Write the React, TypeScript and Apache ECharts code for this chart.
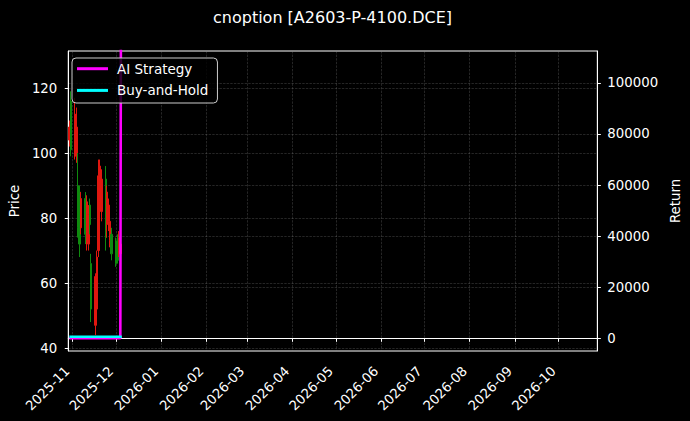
import React, { useEffect, useRef } from "react";
import * as echarts from "echarts";

// ---- data ----
const candleDates = [
  "2025-10-30", "2025-10-31", "2025-11-03", "2025-11-04", "2025-11-05", "2025-11-06", "2025-11-07",
  "2025-11-10", "2025-11-11", "2025-11-12", "2025-11-13", "2025-11-14",
  "2025-11-17", "2025-11-18", "2025-11-19", "2025-11-20", "2025-11-21",
  "2025-11-24", "2025-11-25", "2025-11-26", "2025-11-27", "2025-11-28",
  "2025-12-01", "2025-12-02", "2025-12-03", "2025-12-04",
];
const opens = [108, 101, 112, 108, 77, 72, 86, 75, 85, 81, 78, 52, 62, 68, 93, 96, 92, 74, 88, 84, 79, 69, 66, 67, 74, 72];
const closes = [104, 116, 100, 99, 90, 88, 77, 86, 76, 72, 84, 66, 47, 52, 70, 85, 82, 92, 78, 79, 73, 75, 72, 73, 70, 69];
const lows = [102, 99, 98, 97, 74, 68, 75, 72, 70, 70, 75, 48, 44, 50, 68, 80, 79, 70, 74, 76, 71, 67, 65, 66, 68, 67];
const highs = [110, 119, 117, 114, 100, 90, 88, 88, 87, 84, 86, 69, 63, 70, 98, 98, 95, 96, 90, 86, 82, 77, 74, 75, 76, 74];

const returnDates = [...candleDates, "2025-12-05"];
const aiStrategy = [0, 0, 0, 0, 0, 0, 0, 0, 0, 0, 0, 0, 0, 0, 0, 0, 0, 0, 0, 0, 0, 0, 0, 0, 0, 0, 300000];
const buyAndHold = [600, 610, 590, 600, 620, 600, 590, 610, 600, 600, 610, 590, 600, 600, 610, 600, 590, 600, 610, 600, 600, 590, 600, 610, 600, 600, 600];

const monthLabels = [
  "2025-11", "2025-12", "2026-01", "2026-02", "2026-03", "2026-04",
  "2026-05", "2026-06", "2026-07", "2026-08", "2026-09", "2026-10",
];
const priceTicks = [40, 60, 80, 100, 120];
const returnTicks = [0, 20000, 40000, 60000, 80000, 100000];

const titleText = "cnoption [A2603-P-4100.DCE]";

const toTs = (s: string) => {
  const [y, m, d] = s.split("-").map(Number);
  return Date.UTC(y, m - 1, d || 1);
};

const FONT = "DejaVu Sans";

export default function App() {
  const ref = useRef<HTMLDivElement>(null);
  useEffect(() => {
    if (!ref.current) return;
    const chart = echarts.init(ref.current, null, { renderer: "svg" });
    const candleData = candleDates.map((d, i) => [toTs(d), opens[i], closes[i], lows[i], highs[i]]);
    const aiData = returnDates.map((d, i) => [toTs(d), aiStrategy[i]]);
    const bhData = returnDates.map((d, i) => [toTs(d), buyAndHold[i]]);
    const monthTs = monthLabels.map(toTs);
    const grid = { type: "dashed", color: "rgba(140,140,140,0.45)", width: 0.6 };
    const fmtMonth = (v: number) => {
      const d = new Date(v);
      return `${d.getUTCFullYear()}-${String(d.getUTCMonth() + 1).padStart(2, "0")}`;
    };
    chart.setOption({
      animation: false,
      backgroundColor: "#000000",
      textStyle: { fontFamily: FONT },
      graphic: [
        {
          type: "text",
          x: 332.5,
          y: 17.5,
          style: {
            text: titleText,
            fill: "#ffffff",
            font: `16px "${FONT}"`,
            textAlign: "center",
            textVerticalAlign: "middle",
          },
        },
      ],
      grid: {
        left: 67,
        right: 92,
        top: 51,
        bottom: 70,
        show: true,
        borderColor: "#ffffff",
        borderWidth: 1,
        backgroundColor: "#000000",
      },
      legend: {
        left: 72,
        top: 58,
        orient: "vertical",
        itemWidth: 31,
        itemHeight: 3,
        itemGap: 5.7,
        padding: [2.7, 9, 4.6, 5],
        backgroundColor: "rgba(0,0,0,0.8)",
        borderColor: "#cccccc",
        borderWidth: 1,
        borderRadius: 4,
        icon: "rect",
        textStyle: { color: "#ffffff", fontSize: 13.5, fontFamily: FONT, lineHeight: 16, padding: [0, 0, 0, 4] },
        data: ["AI Strategy", "Buy-and-Hold"],
      },
      xAxis: {
        type: "value",
        min: Date.UTC(2025, 9, 29, 6),
        max: Date.UTC(2026, 9, 27, 16),
        axisLine: { show: true, lineStyle: { color: "#ffffff", width: 1 } },
        axisTick: { show: true, length: 3.5, lineStyle: { color: "#ffffff" }, customValues: monthTs },
        axisLabel: {
          color: "#ffffff",
          fontSize: 13.3,
          fontFamily: FONT,
          rotate: 45,
          margin: 13,
          padding: [0, 7, 0, 0],
          customValues: monthTs,
          formatter: (v: number) => fmtMonth(v),
        },
        splitLine: { show: true, lineStyle: grid },
      },
      yAxis: [
        {
          type: "value",
          position: "left",
          min: 39.1,
          max: 131.4,
          name: "Price",
          nameLocation: "middle",
          nameGap: 45,
          nameRotate: 90,
          nameTextStyle: { color: "#ffffff", fontSize: 13.3, fontFamily: FONT },
          axisLine: { show: true, lineStyle: { color: "#ffffff" } },
          axisTick: { show: true, length: 3.5, lineStyle: { color: "#ffffff" }, customValues: priceTicks },
          axisLabel: { color: "#ffffff", fontSize: 13.3, fontFamily: FONT, margin: 11, customValues: priceTicks },
          splitLine: { show: true, lineStyle: grid },
        },
        {
          type: "value",
          position: "right",
          min: -4970,
          max: 112500,
          name: "Return",
          nameLocation: "middle",
          nameGap: 66,
          nameRotate: 90,
          nameTextStyle: { color: "#ffffff", fontSize: 13.3, fontFamily: FONT },
          axisLine: { show: true, lineStyle: { color: "#ffffff" } },
          axisTick: { show: true, length: 3.5, lineStyle: { color: "#ffffff" }, customValues: returnTicks },
          axisLabel: {
            color: "#ffffff",
            fontSize: 13.3,
            fontFamily: FONT,
            margin: 10,
            customValues: returnTicks,
            formatter: (v: number) => String(v),
          },
          splitLine: { show: true, lineStyle: grid },
        },
      ],
      series: [
        {
          name: "Price",
          type: "candlestick",
          xAxisIndex: 0,
          yAxisIndex: 0,
          barWidth: 2,
          encode: { x: 0, y: [1, 2, 3, 4] },
          itemStyle: {
            color: "#0f8a0f",
            color0: "#e0170f",
            borderColor: "#0f8a0f",
            borderColor0: "#e0170f",
            borderWidth: 1,
          },
          data: candleData,
        },
        {
          name: "AI Strategy",
          type: "line",
          xAxisIndex: 0,
          yAxisIndex: 1,
          showSymbol: false,
          symbol: "none",
          clip: true,
          lineStyle: { color: "#ff00ff", width: 2.6 },
          itemStyle: { color: "#ff00ff" },
          data: aiData,
        },
        {
          name: "Buy-and-Hold",
          type: "line",
          xAxisIndex: 0,
          yAxisIndex: 1,
          showSymbol: false,
          symbol: "none",
          clip: true,
          lineStyle: { color: "#00ffff", width: 2.6 },
          itemStyle: { color: "#00ffff" },
          data: bhData,
        },
      ],
    });
    return () => chart.dispose();
  }, []);
  return (
    <div
      ref={ref}
      style={{ position: "fixed", left: 0, top: 0, width: 690, height: 421, background: "#000" }}
    />
  );
}
